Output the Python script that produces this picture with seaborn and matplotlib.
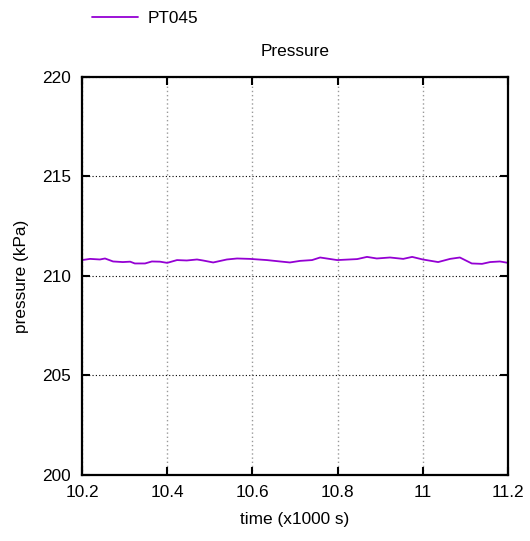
import matplotlib
matplotlib.use("Agg")
import matplotlib.pyplot as plt
import seaborn as sns
import pandas as pd
from matplotlib.ticker import FixedLocator

time_k = [10.200, 10.219, 10.242, 10.254, 10.273, 10.296, 10.313, 10.324, 10.348, 10.364,
          10.383, 10.400, 10.423, 10.446, 10.470, 10.484, 10.508, 10.540, 10.564, 10.594,
          10.634, 10.665, 10.688, 10.712, 10.740, 10.759, 10.799, 10.846, 10.869, 10.892,
          10.923, 10.954, 10.975, 11.000, 11.036, 11.064, 11.087, 11.115, 11.139, 11.158,
          11.181, 11.200]
pt045 = [210.80, 210.86, 210.83, 210.88, 210.73, 210.70, 210.72, 210.63, 210.63, 210.73,
         210.72, 210.66, 210.80, 210.78, 210.83, 210.78, 210.68, 210.83, 210.88, 210.86,
         210.80, 210.73, 210.68, 210.76, 210.80, 210.93, 210.80, 210.85, 210.96, 210.88,
         210.93, 210.86, 210.96, 210.83, 210.70, 210.86, 210.93, 210.63, 210.61, 210.70,
         210.73, 210.66]
x_ticks = [10.2, 10.4, 10.6, 10.8, 11.0, 11.2]
x_tick_labels = ["10.2", "10.4", "10.6", "10.8", "11", "11.2"]
y_ticks = [200, 205, 210, 215, 220]

sns.set_style("white")
plt.rcParams['font.family'] = ['Liberation Sans', 'DejaVu Sans']
plt.rcParams['text.color'] = 'black'
plt.rcParams['axes.labelcolor'] = 'black'

FS = 12.4

df = pd.DataFrame({"time": time_k, "pressure": pt045, "series": "PT045"})

fig = plt.figure(figsize=(5.30, 5.41), dpi=100)
ax = fig.add_axes([82/530, 1 - 475/541, (508 - 82)/530, (475 - 77)/541])

sns.lineplot(data=df, x="time", y="pressure", ax=ax, color="#9400d3", linewidth=1.3,
             label="PT045", legend=False)

ax.set_xlim(10.2, 11.2)
ax.set_ylim(200, 220)
ax.xaxis.set_major_locator(FixedLocator(x_ticks))
ax.set_xticklabels(x_tick_labels)
ax.yaxis.set_major_locator(FixedLocator(y_ticks))

ax.grid(True, axis="x", color="#999999", linestyle=(0, (1, 2)), linewidth=1.0)
ax.grid(True, axis="y", color="#000000", linestyle=(0, (1, 2)), linewidth=0.8)
ax.set_axisbelow(True)

for s in ax.spines.values():
    s.set_visible(True)
    s.set_color("black")
    s.set_linewidth(1.6)

ax.tick_params(axis="both", direction="in", length=6, width=1.5, labelsize=FS,
               colors="black", labelcolor="black", top=True, right=True, bottom=True,
               left=True, pad=8)
ax.tick_params(axis="x", pad=7)

ax.set_xlabel("time (x1000 s)", fontsize=FS, labelpad=9, color="black")
ax.set_ylabel("pressure (kPa)", fontsize=FS, labelpad=9, color="black")
ax.set_title("Pressure", fontsize=FS, pad=15, color="black")

handles, labels = ax.get_legend_handles_labels()
leg = fig.legend(handles, labels, loc="center left", bbox_to_anchor=(76/530, 1 - 18/541),
                 frameon=False, fontsize=FS, handlelength=2.7, handletextpad=0.55)
for t in leg.get_texts():
    t.set_color("black")

fig.savefig("out.png", dpi=100)
